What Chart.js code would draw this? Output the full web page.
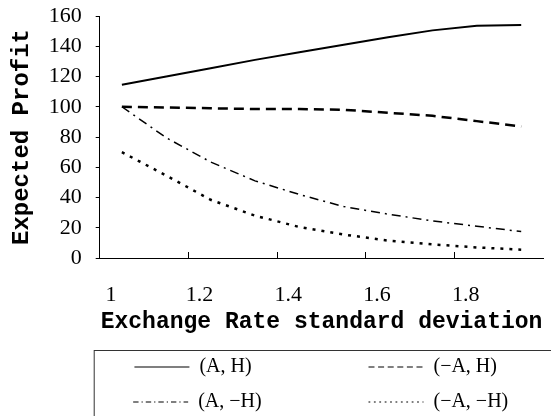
<!DOCTYPE html>
<html>
<head>
<meta charset="utf-8">
<script src="https://cdn.jsdelivr.net/npm/chart.js@4/dist/chart.umd.min.js"></script>
<style>
  html, body { margin: 0; padding: 0; background: #fff; }
  #wrap { width: 551px; height: 416px; }
</style>
</head>
<body>
<div id="wrap"><canvas id="chart" width="551" height="416"></canvas></div>
<script>
// Exchange-rate standard deviation (x categories)
const categories = [1.0, 1.1, 1.2, 1.3, 1.4, 1.5, 1.6, 1.7, 1.8, 1.9];

// Series names
const seriesNames = ['(A, H)', '(\u2212A, H)', '(A, \u2212H)', '(\u2212A, \u2212H)'];

// Expected profit per strategy
const profitAH         = [114.5, 120, 125.5, 131, 136, 141, 146, 150.5, 153.5, 154];
const profitNegAH      = [100, 99.5, 99, 98.5, 98.5, 98, 96, 94, 90.5, 87];
const profitANegH      = [100, 79.5, 63.5, 51, 42, 34, 29, 24.5, 21, 17.5];
const profitNegANegH   = [70, 54.5, 38.5, 28, 20.5, 15.5, 11.5, 9, 7, 5.5];

// Y axis range
const yMin = 0, yMax = 160, yStep = 20;

const serif = '"Liberation Serif", "Times New Roman", serif';
const mono = '"Liberation Mono", "Courier New", monospace';

// Frame around the legend block
const legendFrame = {
  id: 'legendFrame',
  afterDraw(chart) {
    const lg = chart.legend;
    if (!lg) return;
    const c = chart.ctx;
    c.save();
    c.strokeStyle = '#333';
    c.lineWidth = 1;
    c.strokeRect(chart.chartArea.left - 5.5, lg.top + 8.5, chart.width + 10, chart.height);
    c.restore();
  }
};

new Chart(document.getElementById('chart'), {
  type: 'line',
  data: {
    labels: categories,
    datasets: [
      { label: seriesNames[0], data: profitAH, borderColor: '#000', borderWidth: 2, borderDash: [] },
      { label: seriesNames[1], data: profitNegAH, borderColor: '#000', borderWidth: 2.5, borderDash: [10, 6] },
      { label: seriesNames[2], data: profitANegH, borderColor: '#000', borderWidth: 1.5, borderDash: [9, 5, 2, 5] },
      { label: seriesNames[3], data: profitNegANegH, borderColor: '#000', borderWidth: 2.5, borderDash: [3, 6] }
    ].map(d => Object.assign(d, { pointRadius: 0, tension: 0, fill: false, backgroundColor: '#000' }))
  },
  plugins: [legendFrame],
  options: {
    responsive: false,
    animation: false,
    layout: { padding: { top: 0, right: 0, bottom: -6, left: 0 } },
    plugins: {
      tooltip: { enabled: false },
      legend: {
        position: 'bottom',
        fullSize: false,
        labels: {
          usePointStyle: true,
          pointStyle: 'line',
          pointStyleWidth: 55,
          padding: 15,
          color: '#000',
          font: { family: serif, size: 20 },
          generateLabels(chart) {
            const items = Chart.defaults.plugins.legend.labels.generateLabels(chart);
            const c = chart.ctx;
            c.save();
            c.font = '20px ' + serif;
            items.forEach((it, i) => {
              const ds = chart.data.datasets[it.datasetIndex];
              it.lineWidth = 1.2;
              it.lineDash = ds.borderDash.length ? ds.borderDash.map(v => v * 0.6) : [];
              it.strokeStyle = '#000';
              // two legend columns: pad each entry to its column width
              const target = i % 2 === 0 ? 154 : 75;
              while (c.measureText(it.text).width < target) it.text += '\u200A';
            });
            c.restore();
            return items;
          }
        }
      }
    },
    scales: {
      x: {
        type: 'category',
        offset: true,
        border: { display: true, color: '#000', width: 1 },
        grid: {
          offset: true,
          drawOnChartArea: false,
          drawTicks: true,
          tickLength: -6,
          tickWidth: 1,
          tickColor: ctx => (ctx.index > 0 && ctx.index % 2 === 0) ? '#000' : 'rgba(0,0,0,0)'
        },
        ticks: {
          autoSkip: false,
          maxRotation: 0,
          padding: 29.8,
          labelOffset: -11,
          color: '#000',
          font: { family: serif, size: 22 },
          callback(value, index) {
            return index % 2 === 0 ? String(categories[index]) : '';
          }
        },
        title: {
          display: true,
          text: 'Exchange Rate standard deviation',
          color: '#000',
          font: { family: mono, size: 23, weight: 'bold', lineHeight: 1.2 },
          padding: { top: -29.8, bottom: 6.2 }
        }
      },
      y: {
        min: yMin,
        max: yMax,
        border: { display: true, color: '#000', width: 1 },
        grid: {
          drawOnChartArea: false,
          drawTicks: true,
          tickLength: 15.2,
          tickColor: '#000',
          // only the 4px next to the axis is inked
          tickBorderDash: [0, 11.2, 4, 100]
        },
        ticks: {
          stepSize: yStep,
          autoSkip: false,
          padding: 2.8,
          color: '#000',
          font: { family: serif, size: 22 }
        },
        title: {
          display: true,
          text: 'Expected Profit',
          color: '#000',
          font: { family: mono, size: 24, weight: 'bold', lineHeight: 1.2 },
          padding: { top: 7.6, bottom: 9.5 }
        }
      }
    }
  }
});
</script>
</body>
</html>
